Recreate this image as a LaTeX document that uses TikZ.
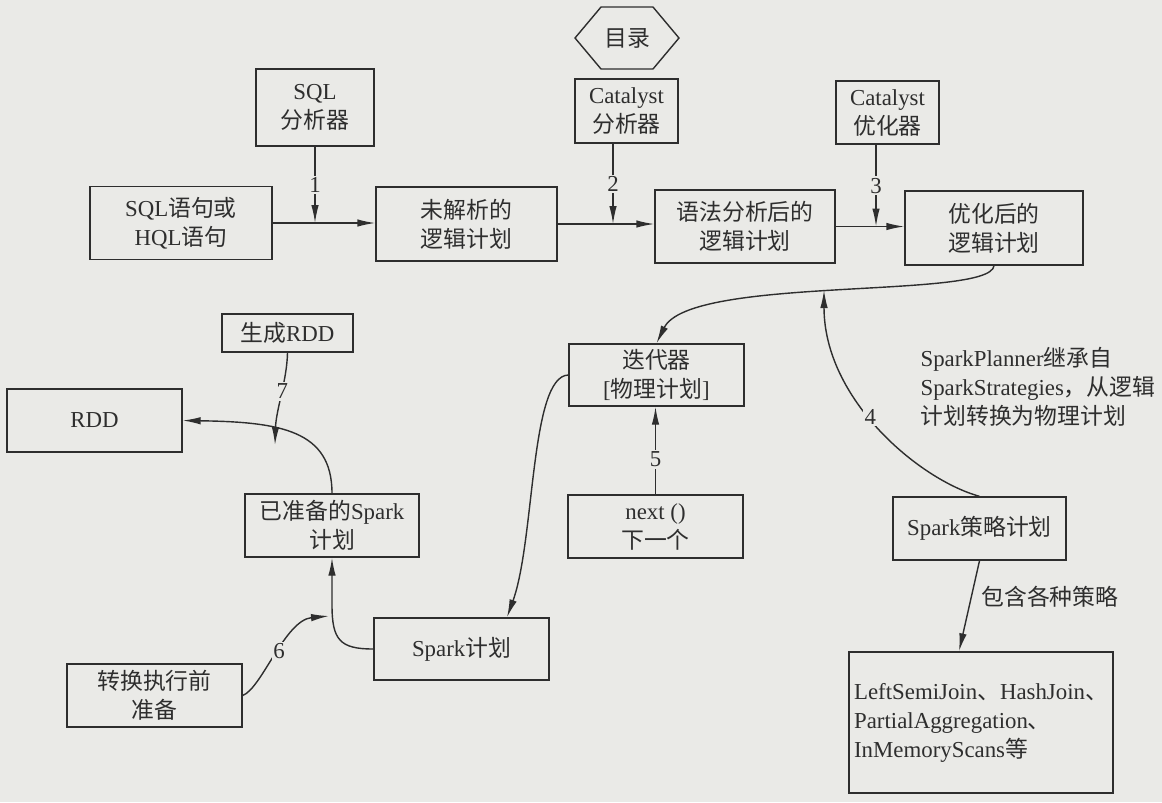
\documentclass[tikz,border=0pt]{standalone}
\usepackage{fontspec}
\setmainfont{Liberation Serif}
\newfontfamily\zhfont{Noto Sans CJK SC}
\usetikzlibrary{arrows.meta,shapes.symbols}
\definecolor{paper}{HTML}{EAEAE7}
\definecolor{ink}{HTML}{2E2E2E}
\tikzset{
  box/.style={draw, inner sep=0pt, align=center},
  lbl/.style={fill=paper, inner sep=1pt},
}

\begin{document}
\begin{tikzpicture}[x=0.02cm,y=-0.02cm,color=ink,line width=0.8pt,
    >={Latex[length=3.6mm,width=1.5mm]},font=\fontsize{13}{16.5}\selectfont]
  \fill[paper] (0,0) rectangle (1162,802);
  \useasboundingbox (0,0) rectangle (1162,802);

  % top row
  \node[box, shape=signal, signal to=west and east, signal pointer angle=100,
        minimum width=2.08cm, minimum height=1.24cm] (catalog) at (627,38) {\zhfont 目录};
  \node[box, minimum width=2.36cm, minimum height=1.54cm] (sqlparser) at (315,107.5) {SQL\\{\zhfont 分析器}};
  \node[box, minimum width=2.06cm, minimum height=1.28cm] (analyzer) at (626.5,111) {Catalyst\\{\zhfont 分析器}};
  \node[box, minimum width=2.06cm, minimum height=1.26cm] (optimizer) at (887.5,112.5) {Catalyst\\{\zhfont 优化器}};

  \node[box, minimum width=3.64cm, minimum height=1.46cm] (query) at (181,223) {SQL{\zhfont 语句或}\\HQL{\zhfont 语句}};
  \node[box, minimum width=3.62cm, minimum height=1.48cm] (unresolved) at (466.5,224) {{\zhfont 未解析的}\\{\zhfont 逻辑计划}};
  \node[box, minimum width=3.6cm, minimum height=1.46cm] (analyzed) at (745,226.5) {{\zhfont 语法分析后的}\\{\zhfont 逻辑计划}};
  \node[box, minimum width=3.56cm, minimum height=1.48cm] (optimized) at (994,228) {{\zhfont 优化后的}\\{\zhfont 逻辑计划}};

  % middle and bottom
  \node[box, minimum width=2.62cm, minimum height=0.76cm] (genrdd) at (287.5,333) {{\zhfont 生成}RDD};
  \node[box, minimum width=3.5cm, minimum height=1.26cm] (rdd) at (94.5,420.5) {RDD};
  \node[box, minimum width=3.5cm, minimum height=1.24cm] (iterator) at (656.5,375) {{\zhfont 迭代器}\\{[}{\zhfont 物理计划}{]}};
  \node[box, minimum width=3.48cm, minimum height=1.26cm] (prepared) at (332,525.5) {{\zhfont 已准备的}Spark\\{\zhfont 计划}};
  \node[box, minimum width=3.5cm, minimum height=1.26cm] (next) at (655.5,526.5) {next ()\\{\zhfont 下一个}};
  \node[box, minimum width=3.46cm, minimum height=1.26cm] (strategy) at (979.5,528.5) {Spark{\zhfont 策略计划}};
  \node[box, minimum width=3.5cm, minimum height=1.24cm] (sparkplan) at (461.5,649) {Spark{\zhfont 计划}};
  \node[box, minimum width=3.5cm, minimum height=1.26cm] (convert) at (154.5,695.5) {{\zhfont 转换执行前}\\{\zhfont 准备}};
  \node[box, align=left, inner xsep=0.1cm, minimum width=5.16cm, minimum height=2.82cm] (joins) at (981,722.5)
    {LeftSemiJoin{\zhfont 、}HashJoin{\zhfont 、}\\PartialAggregation{\zhfont 、}\\InMemoryScans{\zhfont 等}};
  \node[align=left, anchor=west] (plannernote) at (914,387)
    {SparkPlanner{\zhfont 继承自}\\SparkStrategies{\zhfont ，从逻辑}\\{\zhfont 计划转换为物理计划}};

  % main line
  \draw[->] (query.east) -- (query.east -| unresolved.west);
  \draw[->] (unresolved.east) -- (unresolved.east -| analyzed.west);
  \draw[->] (analyzed.east) -- (analyzed.east -| optimized.west);

  \coordinate (m2) at ([xshift=-0.27cm]analyzer.south);
  \coordinate (m3) at ([xshift=-0.23cm]optimizer.south);
  \draw[->] (sqlparser.south) -- node[lbl]{1} (sqlparser.south |- query.east);
  \draw[->] (m2) -- node[lbl]{2} (m2 |- unresolved.east);
  \draw[->] (m3) -- node[lbl]{3} (m3 |- analyzed.east);

  % physical planning
  \coordinate (c4) at (824,290);
  \draw[->] (optimized.south) .. controls (990,300) and (690,275) .. (iterator.north);
  \draw[->] (strategy.north) .. controls (920,480) and (824,400) .. (c4) node[lbl, pos=0.55]{4};
  \draw[->] (next.north) -- (next.north |- iterator.south) node[lbl, pos=0.4]{5};
  \draw[->] (strategy.south) -- ([xshift=-0.44cm]joins.north)
    node[pos=0.4, right=2pt]{\zhfont 包含各种策略};

  % execution
  \coordinate (c6) at (329,616);
  \coordinate (c7) at (275,445);
  \draw[->] (iterator.west) .. controls (530,376) and (535,540) .. ([xshift=0.91cm]sparkplan.north);
  \draw[->] (sparkplan.west) .. controls (340,649) and (332,640) .. (332,605) -- (prepared.south);
  \draw[->] (convert.east) .. controls (262,688) and (285,620) .. (c6) node[lbl, pos=0.53]{6};
  \draw[->] (prepared.north) .. controls (332,430) and (280,422) .. (rdd.east);
  \draw[->] (genrdd.south) .. controls (287,380) and (276,410) .. (c7) node[lbl, pos=0.45]{7};
\end{tikzpicture}
\end{document}
